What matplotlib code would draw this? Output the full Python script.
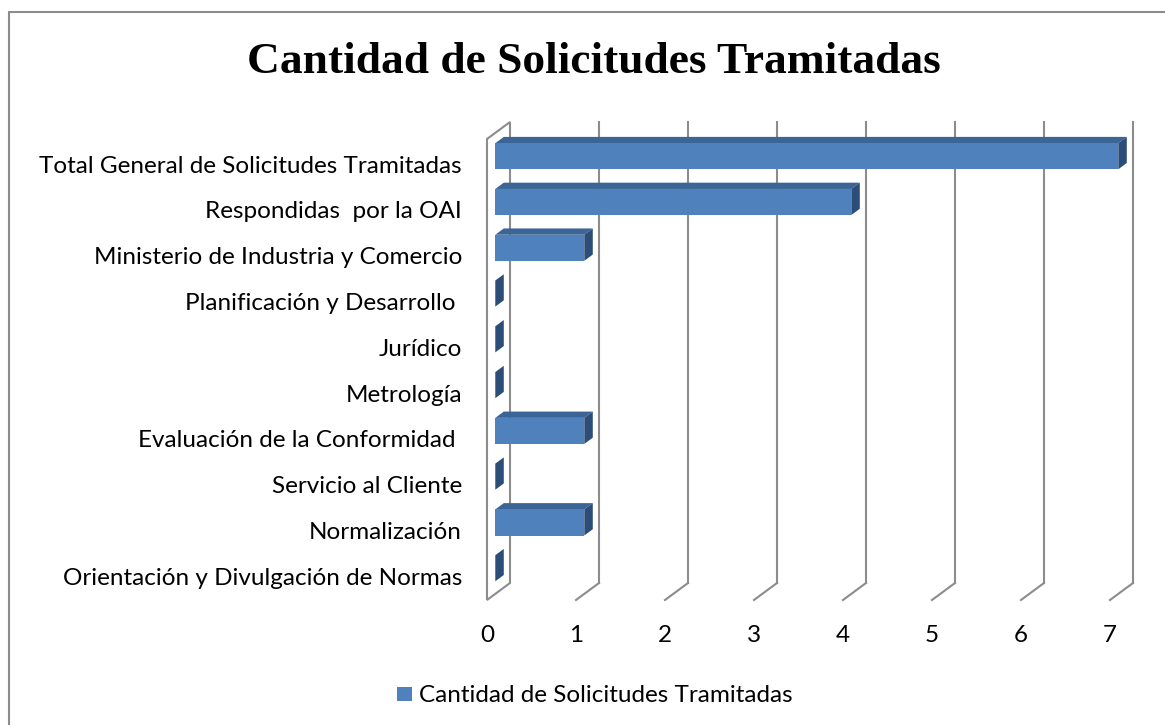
import matplotlib
matplotlib.use("Agg")
import matplotlib.pyplot as plt
from matplotlib.patches import Polygon, Rectangle

categories = [
    "Orientación y Divulgación de Normas",
    "Normalización",
    "Servicio al Cliente",
    "Evaluación de la Conformidad ",
    "Metrología",
    "Jurídico",
    "Planificación y Desarrollo ",
    "Ministerio de Industria y Comercio",
    "Respondidas  por la OAI",
    "Total General de Solicitudes Tramitadas",
]
values = [0, 1, 0, 1, 0, 0, 0, 1, 4, 7]
x_ticks = [0, 1, 2, 3, 4, 5, 6, 7]
series_name = "Cantidad de Solicitudes Tramitadas"
title = "Cantidad de Solicitudes Tramitadas"

W, H = 1165, 725
fig = plt.figure(figsize=(W / 100, H / 100), dpi=100)
fig.patch.set_facecolor("white")

# outer chart border (only left/top visible in reference)
fig.add_artist(Rectangle((9 / W, -0.05), 1.2, 1 - 12 / H + 0.05,
                         transform=fig.transFigure, fill=False,
                         edgecolor="#8c8c8c", linewidth=1.5))

# front plane axes: x=0 at px 487, x=7 at px 1110; y from px 600 to 139
ax = fig.add_axes([487 / W, 1 - 600 / H, 623 / W, 461 / H])
ax.set_xlim(0, 7)
ylo, yhi = -0.52, 9.55
ax.set_ylim(ylo, yhi)
for s in ax.spines.values():
    s.set_visible(False)
ax.patch.set_alpha(0)

# depth vector (full depth) in data units
DX, DY = 23 / 89.0, 17 / 45.8
grid_c = "#8c8c8c"

# left wall
wall = Polygon([(0, ylo), (DX, ylo + DY), (DX, yhi + DY), (0, yhi)],
               closed=True, facecolor="white", edgecolor=grid_c,
               linewidth=1.5, clip_on=False, zorder=1)
ax.add_patch(wall)

# gridlines on back wall and floor
for v in x_ticks[1:]:
    ax.plot([v + DX, v + DX], [ylo + DY, yhi + DY], color=grid_c, lw=1.5,
            clip_on=False, zorder=0.5)
    ax.plot([v, v + DX], [ylo, ylo + DY], color=grid_c, lw=1.5,
            clip_on=False, zorder=0.5)

# bars (3D look)
f1, f2 = 0.36, 0.73
bh = 0.57
c_front = "#4f81bd"
c_top = "#3b6497"
c_side = "#2c4d78"
for i, v in enumerate(values):
    x0, x1 = f1 * DX, v + f1 * DX
    yb, yt = i - bh / 2 + f1 * DY + 0.04, i + bh / 2 + f1 * DY + 0.04
    ddx, ddy = (f2 - f1) * DX, (f2 - f1) * DY
    # top face
    ax.add_patch(Polygon([(x0, yt), (x1, yt), (x1 + ddx, yt + ddy), (x0 + ddx, yt + ddy)],
                         closed=True, facecolor=c_top, edgecolor="none",
                         clip_on=False, zorder=3))
    # side face
    ax.add_patch(Polygon([(x1, yb), (x1 + ddx, yb + ddy), (x1 + ddx, yt + ddy), (x1, yt)],
                         closed=True, facecolor=c_side, edgecolor="none",
                         clip_on=False, zorder=3))
    # front face
    if v > 0:
        ax.barh(i + f1 * DY + 0.04, v, left=x0, height=bh, color=c_front,
                edgecolor="none", zorder=4, clip_on=False)

lab_font = "Lato"
fs = 17.5
ax.set_yticks(range(len(categories)))
ax.set_yticklabels(categories, fontsize=fs, family=lab_font, color="black")
ax.set_xticks(x_ticks)
ax.set_xticklabels([str(t) for t in x_ticks], fontsize=fs, family=lab_font)
ax.tick_params(axis="y", length=0, pad=18)
ax.tick_params(axis="x", length=0, pad=18)

fig.text(594 / W, 1 - 73 / H, title, ha="center", va="baseline",
         fontsize=32.7, fontweight="bold", family="Liberation Serif")

# legend
fig.add_artist(Rectangle((397 / W, 1 - 701 / H), 15 / W, 14 / H,
                         transform=fig.transFigure, facecolor=c_front,
                         edgecolor="none"))
fig.text(419 / W, 1 - 702 / H, series_name, ha="left", va="baseline",
         fontsize=fs, family=lab_font)

fig.savefig("out.png", dpi=100, facecolor="white")
